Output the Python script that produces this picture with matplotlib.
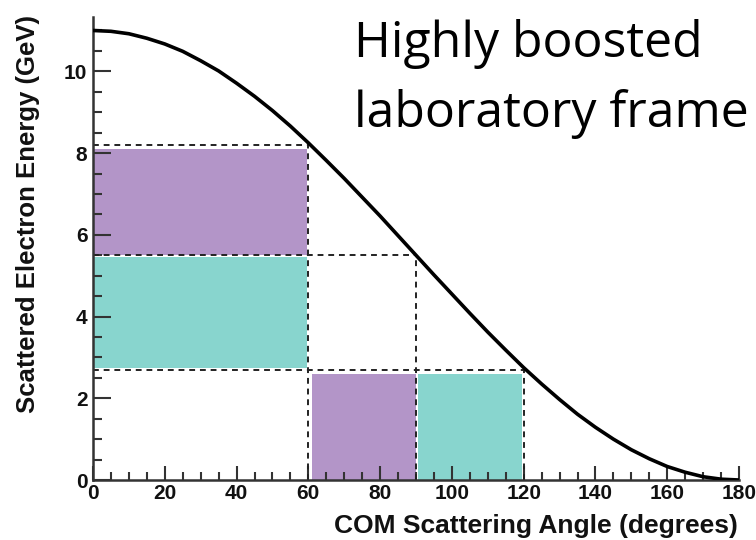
import matplotlib
matplotlib.use("Agg")
import matplotlib.pyplot as plt
from matplotlib.patches import Rectangle
from matplotlib.ticker import MultipleLocator

plt.rcParams["font.family"] = ["Liberation Sans", "DejaVu Sans"]
plt.rcParams["font.weight"] = "bold"

# Scattered electron energy vs. centre-of-mass scattering angle
angle_deg = [0, 5, 10, 15, 20, 25, 30, 35, 40, 45, 50, 55, 60, 65, 70, 75, 80, 85, 90,
             95, 100, 105, 110, 115, 120, 125, 130, 135, 140, 145, 150, 155, 160, 165,
             170, 175, 180]
energy_gev = [11.00, 10.98, 10.92, 10.81, 10.67, 10.49, 10.26, 10.01, 9.71, 9.39, 9.04,
              8.66, 8.25, 7.82, 7.38, 6.92, 6.46, 5.98, 5.50, 5.02, 4.55, 4.08, 3.62,
              3.18, 2.75, 2.35, 1.97, 1.61, 1.29, 1.00, 0.74, 0.52, 0.33, 0.19, 0.08,
              0.02, 0.00]

# Shaded kinematic bins: (angle_lo, angle_hi, energy_lo, energy_hi, colour)
purple = "#B395C8"
teal = "#88D5CE"
bins = [
    (0.0, 59.5, 5.5, 8.1, purple),
    (0.0, 59.5, 2.75, 5.45, teal),
    (61.0, 90.0, 0.0, 2.6, purple),
    (90.5, 119.5, 0.0, 2.6, teal),
]

# Dashed bin boundaries: horizontal (y, x0, x1) and vertical (x, y0, y1)
h_bounds = [(8.2, 0, 60), (5.5, 0, 90), (2.7, 0, 120)]
v_bounds = [(60, 0, 8.2), (90, 0, 5.5), (120, 0, 2.7)]

x_ticks = [0, 20, 40, 60, 80, 100, 120, 140, 160, 180]
y_ticks = [0, 2, 4, 6, 8, 10]

fig = plt.figure(figsize=(7.56, 5.40), dpi=100)
ax = fig.add_axes([93 / 756, 1 - 480 / 540, (739 - 93) / 756, (480 - 17) / 540])

for x0, x1, y0, y1, c in bins:
    ax.add_patch(Rectangle((x0, y0), x1 - x0, y1 - y0, facecolor=c, edgecolor="none", zorder=1))

for y, x0, x1 in h_bounds:
    ax.plot([x0, x1], [y, y], color="#222222", lw=1.4, ls=(0, (3, 2.5)), zorder=2)
for x, y0, y1 in v_bounds:
    ax.plot([x, x], [y0, y1], color="#222222", lw=1.4, ls=(0, (3, 2.5)), zorder=2)

ax.plot(angle_deg, energy_gev, color="black", lw=2.6, zorder=3, solid_capstyle="round")

ax.set_xlim(0, 180)
ax.set_ylim(0, 11.33)
for s in ("top", "right"):
    ax.spines[s].set_visible(False)
for s in ("left", "bottom"):
    ax.spines[s].set_linewidth(1.8)
    ax.spines[s].set_color("#333333")

ax.set_xticks(x_ticks)
ax.set_yticks(y_ticks)
ax.xaxis.set_minor_locator(MultipleLocator(5))
ax.yaxis.set_minor_locator(MultipleLocator(0.5))
ax.tick_params(axis="x", which="major", direction="in", length=10, width=1.5, color="#333333",
               pad=3, labelsize=15, labelcolor="#111111")
ax.tick_params(axis="x", which="minor", direction="in", length=5.5, width=1.5, color="#333333")
ax.tick_params(axis="y", which="major", direction="in", length=13, width=1.5, color="#333333",
               pad=4, labelsize=15, labelcolor="#111111")
ax.tick_params(axis="y", which="minor", direction="in", length=6.5, width=1.5, color="#333333")

fig.text(738 / 756, 1 - 533 / 540, "COM Scattering Angle (degrees)", ha="right", va="baseline",
         fontweight="bold", fontsize=19, color="#111111")
fig.text(28 / 756, 1 - 15 / 540, "Scattered Electron Energy (GeV)", ha="center", va="top",
         rotation=90, fontweight="bold", fontsize=18.5, color="#111111")

fig.text(354 / 756, 1 - 57 / 540, "Highly boosted", ha="left", va="baseline",
         fontfamily="Open Sans", fontweight="normal", fontsize=36, color="black")
fig.text(354 / 756, 1 - 127 / 540, "laboratory frame", ha="left", va="baseline",
         fontfamily="Open Sans", fontweight="normal", fontsize=36, color="black")

fig.savefig("out.png", dpi=100)
